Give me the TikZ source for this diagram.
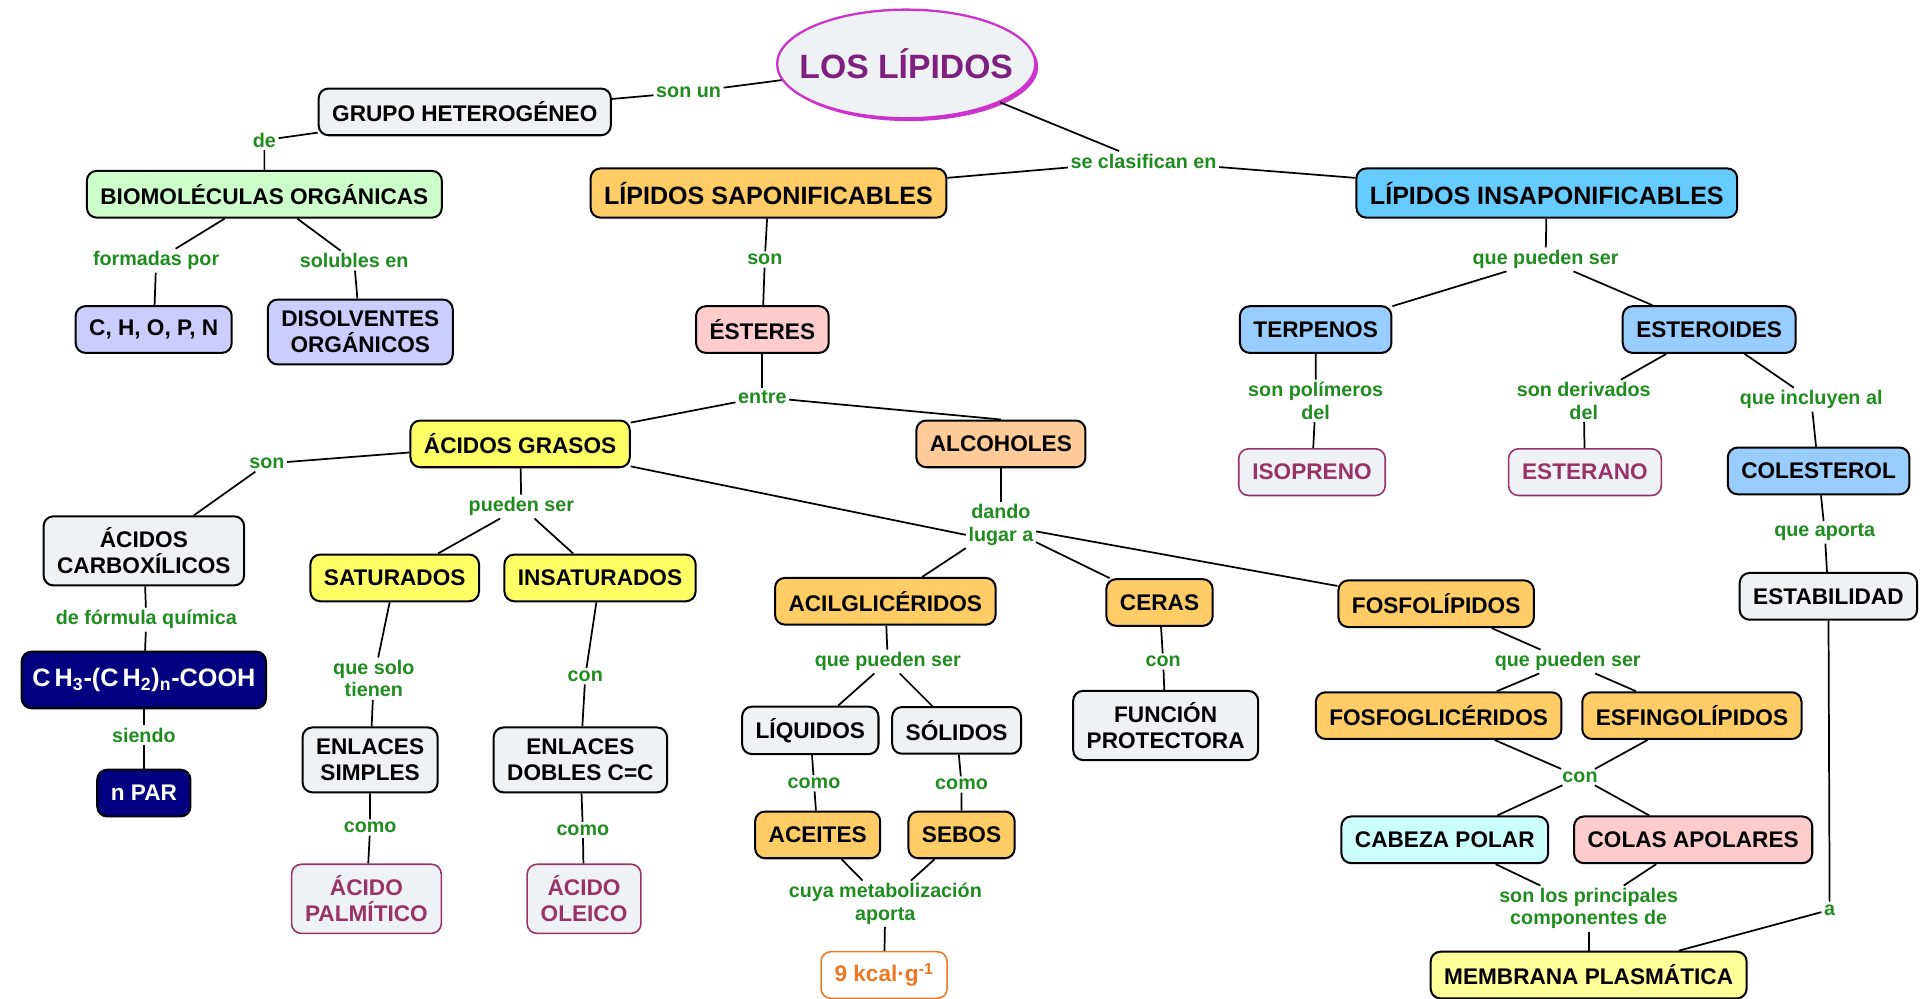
\documentclass[tikz,border=0pt]{standalone}
\usepackage{fontspec}
\setmainfont{Liberation Sans}
\usetikzlibrary{shapes.geometric, shadows}
\definecolor{cmgray}{HTML}{EEF2F5}
\definecolor{cmgreen}{HTML}{CCFFCC}
\definecolor{cmlila}{HTML}{CCCCFF}
\definecolor{cmorange}{HTML}{FFCC66}
\definecolor{cmpeach}{HTML}{FFCC99}
\definecolor{cmpink}{HTML}{FFCCCC}
\definecolor{cmyellow}{HTML}{FFFF66}
\definecolor{cmlemon}{HTML}{FFFF99}
\definecolor{cmsky}{HTML}{66CCFF}
\definecolor{cmblue}{HTML}{99CCFF}
\definecolor{cmcyan}{HTML}{CCFFFF}
\definecolor{cmnavy}{HTML}{000080}
\definecolor{cmlink}{HTML}{1E8C1E}
\definecolor{cmwine}{HTML}{993366}
\definecolor{cmkcal}{HTML}{EE7722}
\definecolor{cmpurple}{HTML}{7F1F7F}
\definecolor{cmmagenta}{HTML}{CC33CC}

\begin{document}
\begin{tikzpicture}[x=0.3mm, y=-0.3mm,
  concept/.style={rectangle, draw=black, fill=#1, line width=1.4pt, rounded corners=2.4mm, font=\fontsize{15.7}{18}\selectfont\bfseries, align=center, inner xsep=3.3mm, inner ysep=2.8mm, minimum height=11.4mm},
  bigconcept/.style={concept=#1, font=\fontsize{17.4}{20}\selectfont\bfseries, minimum height=12mm},
  instance/.style={concept=cmgray, draw=cmwine, text=cmwine, line width=1.1pt},
  formula/.style={concept=cmnavy, text=white},
  linkword/.style={font=\fontsize{13.7}{15.5}\selectfont\bfseries, text=cmlink, align=center, inner sep=0.6mm},
  cline/.style={line width=1.2pt},
]
  \useasboundingbox (0,0) rectangle (1568,812);

  % Main concept
  \node[ellipse, draw=cmmagenta, fill=cmgray, line width=1.6pt, inner xsep=-3.8mm, minimum width=63mm, minimum height=26.5mm, text=cmpurple, font=\fontsize{23.4}{26}\selectfont\bfseries, drop shadow={shadow xshift=0.7mm, shadow yshift=-0.7mm, fill=cmmagenta, opacity=1}] (lipidos) at (737,52) {LOS LÍPIDOS};

  % Left branch
  \node[concept=cmgray] (grupo) at (378,91) {GRUPO HETEROGÉNEO};
  \node[concept=cmgreen] (biomol) at (215,158) {BIOMOLÉCULAS ORGÁNICAS};
  \node[concept=cmlila] (chopn) at (125,268) {C, H, O, P, N};
  \node[concept=cmlila] (disolv) at (293,270) {DISOLVENTES\\ORGÁNICOS};

  % First level
  \node[bigconcept=cmorange] (sapon) at (625,157) {LÍPIDOS SAPONIFICABLES};
  \node[bigconcept=cmsky] (insapon) at (1258,157) {LÍPIDOS INSAPONIFICABLES};

  % Saponificables
  \node[concept=cmpink] (esteres) at (620,268) {ÉSTERES};
  \node[concept=cmyellow] (grasos) at (423,361) {ÁCIDOS GRASOS};
  \node[concept=cmpeach] (alcoholes) at (814,361) {ALCOHOLES};
  \node[concept=cmgray] (carbox) at (117,448) {ÁCIDOS\\CARBOXÍLICOS};
  \node[formula, font=\fontsize{17.5}{19}\selectfont\bfseries, minimum height=13.8mm, inner xsep=2.6mm] (formula) at (117,553) {C\,H\textsubscript{3}-(C\,H\textsubscript{2})\textsubscript{n}-COOH};
  \node[formula] (npar) at (117,645) {n PAR};
  \node[concept=cmyellow] (satur) at (321,470) {SATURADOS};
  \node[concept=cmyellow] (insatur) at (488,470) {INSATURADOS};
  \node[concept=cmgray] (simples) at (301,618) {ENLACES\\SIMPLES};
  \node[concept=cmgray] (dobles) at (472,618) {ENLACES\\DOBLES C=C};
  \node[instance] (palmit) at (298,731) {ÁCIDO\\PALMÍTICO};
  \node[instance] (oleico) at (475,731) {ÁCIDO\\OLEICO};

  % Products of the alcohols
  \node[concept=cmorange] (acil) at (720,489) {ACILGLICÉRIDOS};
  \node[concept=cmorange] (ceras) at (943,490) {CERAS};
  \node[concept=cmorange] (fosfo) at (1168,491) {FOSFOLÍPIDOS};
  \node[concept=cmgray] (liquidos) at (659,594) {LÍQUIDOS};
  \node[concept=cmgray] (solidos) at (778,594) {SÓLIDOS};
  \node[concept=cmorange] (aceites) at (665,679) {ACEITES};
  \node[concept=cmorange] (sebos) at (782,679) {SEBOS};
  \node[concept=white, draw=cmkcal, text=cmkcal, line width=1.1pt] (kcal) at (719,793) {9 kcal·g\textsuperscript{-1}};
  \node[concept=cmgray] (funcion) at (948,590) {FUNCIÓN\\PROTECTORA};
  \node[concept=cmorange] (fosfoglic) at (1170,582) {FOSFOGLICÉRIDOS};
  \node[concept=cmorange] (esfingo) at (1376,582) {ESFINGOLÍPIDOS};
  \node[concept=cmcyan] (cabeza) at (1175,683) {CABEZA POLAR};
  \node[concept=cmpink] (colas) at (1377,683) {COLAS APOLARES};
  \node[concept=cmlemon] (membrana) at (1292,793) {MEMBRANA PLASMÁTICA};

  % Insaponificables
  \node[concept=cmblue] (terpenos) at (1070,268) {TERPENOS};
  \node[concept=cmblue] (esteroides) at (1390,268) {ESTEROIDES};
  \node[instance] (isopreno) at (1067,384) {ISOPRENO};
  \node[instance] (esterano) at (1289,384) {ESTERANO};
  \node[concept=cmblue] (colesterol) at (1479,383) {COLESTEROL};
  \node[concept=cmgray] (estabilidad) at (1487,485) {ESTABILIDAD};

  % Linking words
  \node[linkword] (sonun) at (560,75) {son un};
  \node[linkword] (de) at (215,114) {de};
  \node[linkword] (formadas) at (127,212) {formadas por};
  \node[linkword] (solubles) at (288,212) {solubles en};
  \node[linkword] (clasif) at (930,131) {se clasifican en};
  \node[linkword] (sonest) at (622,211) {son};
  \node[linkword] (entre) at (620,323) {entre};
  \node[linkword] (soncarb) at (217,377) {son};
  \node[linkword] (pueden) at (424,412) {pueden ser};
  \node[linkword] (formq) at (119,504) {de fórmula química};
  \node[linkword] (siendo) at (117,598) {siendo};
  \node[linkword] (solo) at (304,552) {que solo\\tienen};
  \node[linkword] (consat) at (476,550) {con};
  \node[linkword] (comosim) at (301,673) {como};
  \node[linkword] (comodob) at (474,675) {como};
  \node[linkword] (dando) at (814,427) {dando\\lugar a};
  \node[linkword] (puedenacil) at (722,538) {que pueden ser};
  \node[linkword] (comoliq) at (662,637) {como};
  \node[linkword] (comosol) at (782,638) {como};
  \node[linkword] (cuya) at (720,735) {cuya metabolización\\aporta};
  \node[linkword] (conceras) at (946,538) {con};
  \node[linkword] (puedenfos) at (1275,538) {que pueden ser};
  \node[linkword] (confos) at (1285,632) {con};
  \node[linkword] (princ) at (1292,739) {son los principales\\componentes de};
  \node[linkword] (toa) at (1488,740) {a};
  \node[linkword] (puedenins) at (1257,211) {que pueden ser};
  \node[linkword] (polim) at (1070,326) {son polímeros\\del};
  \node[linkword] (deriv) at (1288,326) {son derivados\\del};
  \node[linkword] (incluyen) at (1473,325) {que incluyen al};
  \node[linkword] (aporta) at (1484,433) {que aporta};

  % Connectors
  \draw[cline] (grupo) -- (sonun) -- (lipidos);
  \draw[cline] (grupo) -- (de) -- (biomol);
  \draw[cline] (biomol) -- (formadas) -- (chopn);
  \draw[cline] (biomol) -- (solubles) -- (disolv);
  \draw[cline] (lipidos) -- (clasif);
  \draw[cline] (clasif) -- (sapon);
  \draw[cline] (clasif) -- (insapon);
  \draw[cline] (sapon) -- (sonest) -- (esteres);
  \draw[cline] (esteres) -- (entre);
  \draw[cline] (entre) -- (grasos);
  \draw[cline] (entre) -- (alcoholes.north);
  \draw[cline] (grasos) -- (soncarb) -- (carbox);
  \draw[cline] (carbox) -- (formq) -- (formula);
  \draw[cline] (formula) -- (siendo) -- (npar);
  \draw[cline] (grasos) -- (pueden);
  \draw[cline] (pueden) -- (satur);
  \draw[cline] (pueden) -- (insatur);
  \draw[cline] (satur) -- (solo) -- (simples);
  \draw[cline] (insatur) -- (consat) -- (dobles);
  \draw[cline] (simples) -- (comosim) -- (palmit);
  \draw[cline] (dobles) -- (comodob) -- (oleico);
  \draw[cline] (alcoholes) -- (dando);
  \draw[cline] (grasos) -- ([yshift=-2.4mm]dando.west);
  \draw[cline] (dando) -- (acil);
  \draw[cline] (dando) -- (ceras);
  \draw[cline] (dando) -- (fosfo);
  \draw[cline] (acil) -- (puedenacil);
  \draw[cline] (puedenacil) -- (liquidos);
  \draw[cline] (puedenacil) -- (solidos);
  \draw[cline] (liquidos) -- (comoliq) -- (aceites);
  \draw[cline] (solidos) -- (comosol) -- (sebos);
  \draw[cline] (aceites) -- (cuya);
  \draw[cline] (sebos) -- (cuya);
  \draw[cline] (cuya) -- (kcal);
  \draw[cline] (ceras) -- (conceras) -- (funcion);
  \draw[cline] (fosfo) -- (puedenfos);
  \draw[cline] (puedenfos) -- (fosfoglic);
  \draw[cline] (puedenfos) -- (esfingo);
  \draw[cline] (fosfoglic) -- (confos);
  \draw[cline] (esfingo) -- (confos);
  \draw[cline] (confos) -- (cabeza);
  \draw[cline] (confos) -- (colas);
  \draw[cline] (cabeza) -- (princ);
  \draw[cline] (colas) -- (princ);
  \draw[cline] (princ) -- (membrana);
  \draw[cline] (insapon) -- (puedenins);
  \draw[cline] (puedenins) -- (terpenos);
  \draw[cline] (puedenins) -- (esteroides);
  \draw[cline] (terpenos) -- (polim) -- (isopreno);
  \draw[cline] (esteroides) -- (deriv) -- (esterano);
  \draw[cline] (esteroides) -- (incluyen) -- (colesterol);
  \draw[cline] (colesterol) -- (aporta) -- (estabilidad);
  \draw[cline] (estabilidad) -- (toa) -- (membrana);
\end{tikzpicture}
\end{document}
